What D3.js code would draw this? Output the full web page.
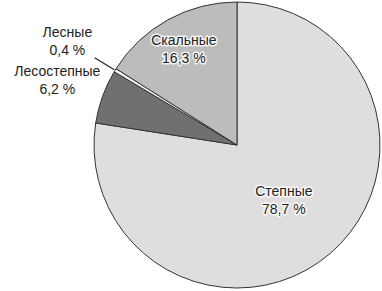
<!DOCTYPE html>
<html>
<head>
<meta charset="utf-8">
<script src="https://cdn.jsdelivr.net/npm/d3@7"></script>
<style>
body { margin: 0; background: #fff; }
svg text { font-family: "Liberation Sans", Arial, sans-serif; font-size: 14px; fill: #222; }
.halo { stroke: #fff; stroke-width: 3px; stroke-opacity: 0.85; paint-order: stroke; stroke-linejoin: round; }
</style>
</head>
<body>
<svg id="myGraph" width="382" height="291"></svg>
<script>
// данные
var names  = ["Степные", "Лесостепные", "Лесные", "Скальные"];
var values = [78.7, 6.2, 0.4, 16.3];
var labels = ["78,7 %", "6,2 %", "0,4 %", "16,3 %"];

var colors = ["#dedede", "#707070", "#f4f4f4", "#bcbcbc"];
var labelR = [72, 191, 199, 110]; // радиус для подписи
var inside = [true, false, false, true];

var cx = 237, cy = 145, R = 143;

var svg = d3.select("#myGraph");
var g = svg.append("g").attr("transform", "translate(" + cx + "," + cy + ")");

var pie = d3.pie().sort(null).value(function(d){ return d; });
var arcs = pie(values);
var arc = d3.arc().innerRadius(0).outerRadius(R);

g.selectAll("path")
    .data(arcs)
    .enter()
    .append("path")
    .attr("d", arc)
    .attr("fill", function(d, i){ return colors[i]; })
    .attr("stroke", "#333")
    .attr("stroke-width", 1)
    .attr("stroke-linejoin", "round");

// линия-выноска для "Лесные"
var a2 = (arcs[2].startAngle + arcs[2].endAngle) / 2;
g.append("line")
    .attr("x1", Math.sin(a2) * (R + 1))
    .attr("y1", -Math.cos(a2) * (R + 1))
    .attr("x2", Math.sin(a2) * 167)
    .attr("y2", -Math.cos(a2) * 167)
    .attr("stroke", "#222")
    .attr("stroke-width", 1.2);

var lab = g.selectAll("text.lab")
    .data(arcs)
    .enter()
    .append("text")
    .attr("class", function(d, i){ return inside[i] ? "lab halo" : "lab"; })
    .attr("text-anchor", "middle")
    .attr("transform", function(d, i){
        var a = (d.startAngle + d.endAngle) / 2;
        return "translate(" + (Math.sin(a) * labelR[i]) + "," + (-Math.cos(a) * labelR[i]) + ")";
    });

lab.append("tspan")
    .attr("x", 0)
    .attr("y", -4)
    .text(function(d, i){ return names[i]; });
lab.append("tspan")
    .attr("x", 0)
    .attr("y", 14)
    .text(function(d, i){ return labels[i]; });
</script>
</body>
</html>
